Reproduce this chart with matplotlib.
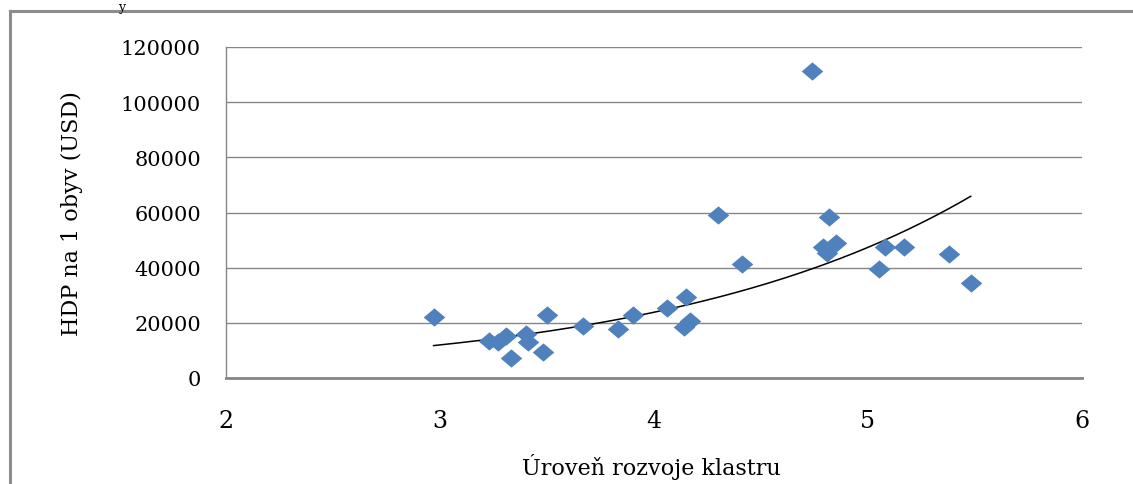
import numpy as np
import matplotlib
matplotlib.use("Agg")
import matplotlib.pyplot as plt
from matplotlib.lines import Line2D

# úroveň rozvoje klastru vs. HDP na obyvatele (USD)
uroven = [2.97, 3.23, 3.27, 3.31, 3.33, 3.40, 3.41, 3.48, 3.50, 3.67,
          3.83, 3.90, 4.06, 4.15, 4.14, 4.17, 4.30, 4.41, 4.74, 4.79,
          4.81, 4.85, 4.82, 5.05, 5.08, 5.17, 5.38, 5.48]
hdp = [22000, 13500, 12900, 15300, 7100, 15800, 13000, 9500, 22800, 18900,
       17800, 22800, 25300, 29200, 18500, 20800, 59100, 41300, 111200, 47400,
       45300, 49000, 58300, 39500, 47400, 47400, 45000, 34300]

x_ticks = [2, 3, 4, 5, 6]
y_ticks = [0, 20000, 40000, 60000, 80000, 100000, 120000]

plt.rcParams['font.family'] = ['DejaVu Serif']

fig = plt.figure(figsize=(11.33, 4.85), dpi=100)
ax = fig.add_axes([226 / 1133, 1 - 379 / 485, (1082 - 226) / 1133, (379 - 48) / 485])

# exponenciální spojnice trendu (jako v Excelu: fit na ln y)
b, ln_a = np.polyfit(uroven, np.log(hdp), 1)
xs = np.linspace(min(uroven), max(uroven), 200)
ax.plot(xs, np.exp(ln_a) * np.exp(b * xs), color='black', lw=1.1, zorder=2)

diamond = [(-1, 0), (0, 0.85), (1, 0), (0, -0.85)]
ax.scatter(uroven, hdp, marker=diamond, s=15.5 ** 2, color='#4F81BD',
           linewidths=0, zorder=3)

ax.set_xlim(2, 6)
ax.set_ylim(0, 120000)
ax.set_xticks(x_ticks)
ax.set_yticks(y_ticks)
ax.set_xticklabels([str(t) for t in x_ticks], fontsize=17)
ax.set_yticklabels([str(t) for t in y_ticks], fontsize=15)
ax.tick_params(axis='both', length=0)
ax.tick_params(axis='y', pad=18)
ax.tick_params(axis='x', pad=22)

ax.grid(axis='y', color='#868686', lw=1.0)
ax.set_axisbelow(True)
for s in ['top', 'right']:
    ax.spines[s].set_visible(False)
ax.spines['left'].set_color('#868686')
ax.spines['left'].set_linewidth(1.0)
ax.spines['bottom'].set_color('#868686')
ax.spines['bottom'].set_linewidth(2.0)

fig.text(72 / 1133, 1 - 214 / 485, 'HDP na 1 obyv (USD)', rotation=90,
         ha='center', va='center', fontsize=16)
fig.text(651 / 1133, 1 - 467 / 485, 'Úroveň rozvoje klastru',
         ha='center', va='center', fontsize=16)

# rámeček (oříznutý) a zbytek textu nad grafem
fig.add_artist(Line2D([10 / 1133, 10 / 1133], [0, 1 - 12 / 485],
                      transform=fig.transFigure, color='#8c8c8c', lw=2.2))
fig.add_artist(Line2D([10 / 1133, 1], [1 - 12 / 485, 1 - 12 / 485],
                      transform=fig.transFigure, color='#8c8c8c', lw=2.2))
fig.text(122 / 1133, 1 - 1 / 485, 'y', ha='center', va='top', fontsize=9)

fig.savefig('out.png', dpi=100)
